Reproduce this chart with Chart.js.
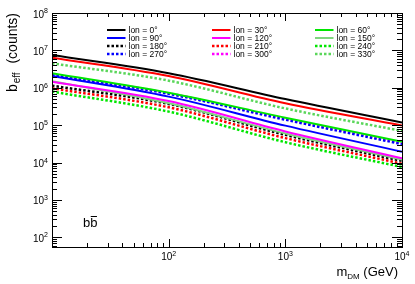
<!DOCTYPE html>
<html lang="en">
<head>
  <meta charset="UTF-8" />
  <title>b_eff vs m_DM</title>
  <script src="https://cdn.jsdelivr.net/npm/chart.js"></script>
  <style>
    html, body { margin: 0; padding: 0; background: #fff; }
    canvas { display: block; }
  </style>
</head>
<body>
  <canvas id="chart" width="415" height="284"></canvas>

  <script>
    const masses = [10, 100, 1000, 10000];

    // b_eff (counts) per longitude
    const lon0   = [7.5e6, 2.45e6, 5.0e5, 1.18e5];
    const lon30  = [6.4e6, 2.07e6, 3.85e5, 9.8e4];
    const lon60  = [2.45e6, 7.4e5, 1.58e5, 3.6e4];
    const lon90  = [2.07e6, 5.8e5, 9.7e4, 1.95e4];
    const lon120 = [1.45e6, 4.4e5, 6.8e4, 1.3e4];
    const lon150 = [1.5e6, 3.85e5, 6.0e4, 1.2e4];
    const lon180 = [1.14e6, 3.7e5, 5.5e4, 1.1e4];
    const lon210 = [9.7e5, 3.0e5, 4.5e4, 9.3e3];
    const lon240 = [7.9e5, 2.3e5, 3.5e4, 7.6e3];
    const lon270 = [2.2e6, 6.9e5, 1.4e5, 3.1e4];
    const lon300 = [2.25e6, 7.1e5, 1.47e5, 3.3e4];
    const lon330 = [4.5e6, 1.55e6, 2.8e5, 7.0e4];

    const xTickLabels = [2, 3, 4];             // exponents of 10 on x
    const yTickLabels = [2, 3, 4, 5, 6, 7, 8]; // exponents of 10 on y

    const DOT = [2.5, 2];
    const series = [
      { label: 'lon = 0°',   data: lon0,   color: '#000000', dash: [] },
      { label: 'lon = 30°',  data: lon30,  color: '#ff0000', dash: [] },
      { label: 'lon = 60°',  data: lon60,  color: '#00e600', dash: [] },
      { label: 'lon = 90°',  data: lon90,  color: '#0000ff', dash: [] },
      { label: 'lon = 120°', data: lon120, color: '#ff00ff', dash: [] },
      { label: 'lon = 150°', data: lon150, color: '#7fd67f', dash: [] },
      { label: 'lon = 180°', data: lon180, color: '#000000', dash: DOT },
      { label: 'lon = 210°', data: lon210, color: '#ff0000', dash: DOT },
      { label: 'lon = 240°', data: lon240, color: '#00e600', dash: DOT },
      { label: 'lon = 270°', data: lon270, color: '#0000ff', dash: DOT },
      { label: 'lon = 300°', data: lon300, color: '#ff00ff', dash: DOT },
      { label: 'lon = 330°', data: lon330, color: '#5ad65a', dash: DOT }
    ];

    const FONT = '"Liberation Sans", Arial, sans-serif';

    function power(ctx, exp, x, y, align, big, small) {
      // draws "10^exp" ; align: 'center' or 'right' (x = right edge)
      ctx.font = big + 'px ' + FONT;
      const wb = ctx.measureText('10').width;
      ctx.font = small + 'px ' + FONT;
      const we = ctx.measureText(String(exp)).width;
      const total = wb + we;
      const x0 = align === 'center' ? x - total / 2 : x - total;
      ctx.textAlign = 'left';
      ctx.font = big + 'px ' + FONT;
      ctx.fillText('10', x0, y);
      ctx.font = small + 'px ' + FONT;
      ctx.fillText(String(exp), x0 + wb, y - big * 0.45);
    }

    const rootFrame = {
      id: 'rootFrame',
      afterDraw(chart) {
        const ctx = chart.ctx;
        const xs = chart.scales.x, ys = chart.scales.y;
        const { left, right, top, bottom } = chart.chartArea;
        ctx.save();
        ctx.strokeStyle = '#000';
        ctx.fillStyle = '#000';
        ctx.lineWidth = 1;
        ctx.setLineDash([]);
        ctx.strokeRect(left + 0.5, top + 0.5, right - left, bottom - top);

        ctx.beginPath();
        // x ticks (bottom and top)
        for (let e = 1; e <= 4; e++) {
          for (let m = 1; m <= 9; m++) {
            const v = m * Math.pow(10, e);
            if (v < xs.min || v > xs.max) continue;
            const px = Math.round(xs.getPixelForValue(v)) + 0.5;
            const len = m === 1 ? 8 : 4;
            ctx.moveTo(px, bottom); ctx.lineTo(px, bottom - len);
            ctx.moveTo(px, top); ctx.lineTo(px, top + len);
          }
        }
        // y ticks (left and right)
        for (let e = 1; e <= 8; e++) {
          for (let m = 1; m <= 9; m++) {
            const v = m * Math.pow(10, e);
            if (v < ys.min || v > ys.max) continue;
            const py = Math.round(ys.getPixelForValue(v)) + 0.5;
            const len = m === 1 ? 10 : 5;
            ctx.moveTo(left, py); ctx.lineTo(left + len, py);
            ctx.moveTo(right, py); ctx.lineTo(right - len, py);
          }
        }
        ctx.stroke();

        // tick labels
        ctx.textBaseline = 'alphabetic';
        xTickLabels.forEach(e => {
          power(ctx, e, xs.getPixelForValue(Math.pow(10, e)), 260, 'center', 10, 7);
        });
        yTickLabels.forEach(e => {
          power(ctx, e, left - 4, ys.getPixelForValue(Math.pow(10, e)) + 4.5, 'right', 10, 7);
        });

        // x title: m_DM (GeV), right aligned to the axis end
        ctx.textAlign = 'left';
        ctx.font = '13px ' + FONT;
        const wm = ctx.measureText('m').width;
        const wg = ctx.measureText(' (GeV)').width;
        ctx.font = '8px ' + FONT;
        const wd = ctx.measureText('DM').width;
        let xt = right - 4 - (wm + wd + wg);
        ctx.font = '13px ' + FONT;
        ctx.fillText('m', xt, 276);
        ctx.font = '8px ' + FONT;
        ctx.fillText('DM', xt + wm, 279);
        ctx.font = '13px ' + FONT;
        ctx.fillText(' (GeV)', xt + wm + wd, 276);

        // y title: b_eff (counts), rotated, ending at the top of the axis
        ctx.save();
        ctx.translate(17, top);
        ctx.rotate(-Math.PI / 2);
        ctx.font = '14px ' + FONT;
        const wbb = ctx.measureText('b').width;
        const wc = ctx.measureText('  (counts)').width;
        ctx.font = '10px ' + FONT;
        const we = ctx.measureText('eff').width;
        let yt = -(wbb + we + wc + 2);
        ctx.font = '14px ' + FONT;
        ctx.fillText('b', yt, 0);
        ctx.font = '10px ' + FONT;
        ctx.fillText('eff', yt + wbb + 1, 3);
        ctx.font = '14px ' + FONT;
        ctx.fillText('  (counts)', yt + wbb + we + 2, 0);
        ctx.restore();

        // channel label b b-bar
        ctx.font = '13px ' + FONT;
        const wb1 = ctx.measureText('b').width;
        ctx.fillText('b', 83, 227);
        ctx.fillText('b', 83 + wb1, 227);
        ctx.beginPath();
        ctx.moveTo(83 + wb1 + 0.5, 216.5);
        ctx.lineTo(83 + 2 * wb1 - 0.5, 216.5);
        ctx.stroke();

        // legend, 3 columns x 4 rows
        const colX = [107, 212, 315];
        const rowY = [30, 38, 46, 54];
        series.forEach((s, i) => {
          const c = i % 3, r = Math.floor(i / 3);
          const x0 = colX[c], y0 = rowY[r];
          ctx.beginPath();
          ctx.strokeStyle = s.color;
          ctx.lineWidth = s.dash.length ? 2.5 : 2;
          ctx.setLineDash(s.dash);
          ctx.moveTo(x0, y0);
          ctx.lineTo(x0 + 18.5, y0);
          ctx.stroke();
          ctx.setLineDash([]);
          ctx.fillStyle = '#000';
          ctx.font = '8.5px ' + FONT;
          ctx.textAlign = 'left';
          ctx.fillText(s.label, x0 + 21.5, y0 + 3);
        });
        ctx.restore();
      }
    };

    new Chart(document.getElementById('chart'), {
      type: 'line',
      data: {
        datasets: series.map(s => ({
          label: s.label,
          data: masses.map((m, i) => ({ x: m, y: s.data[i] })),
          borderColor: s.color,
          borderWidth: s.dash.length ? 2.5 : 2,
          borderDash: s.dash,
          pointRadius: 0,
          cubicInterpolationMode: 'monotone',
          fill: false
        }))
      },
      options: {
        responsive: false,
        animation: false,
        devicePixelRatio: 1,
        layout: { padding: { left: 52, right: 13, top: 13, bottom: 37 } },
        plugins: { legend: { display: false }, tooltip: { enabled: false } },
        scales: {
          x: { type: 'logarithmic', min: 10, max: 10000, display: false },
          y: { type: 'logarithmic', min: 55, max: 1e8, display: false }
        }
      },
      plugins: [rootFrame]
    });
  </script>
</body>
</html>
